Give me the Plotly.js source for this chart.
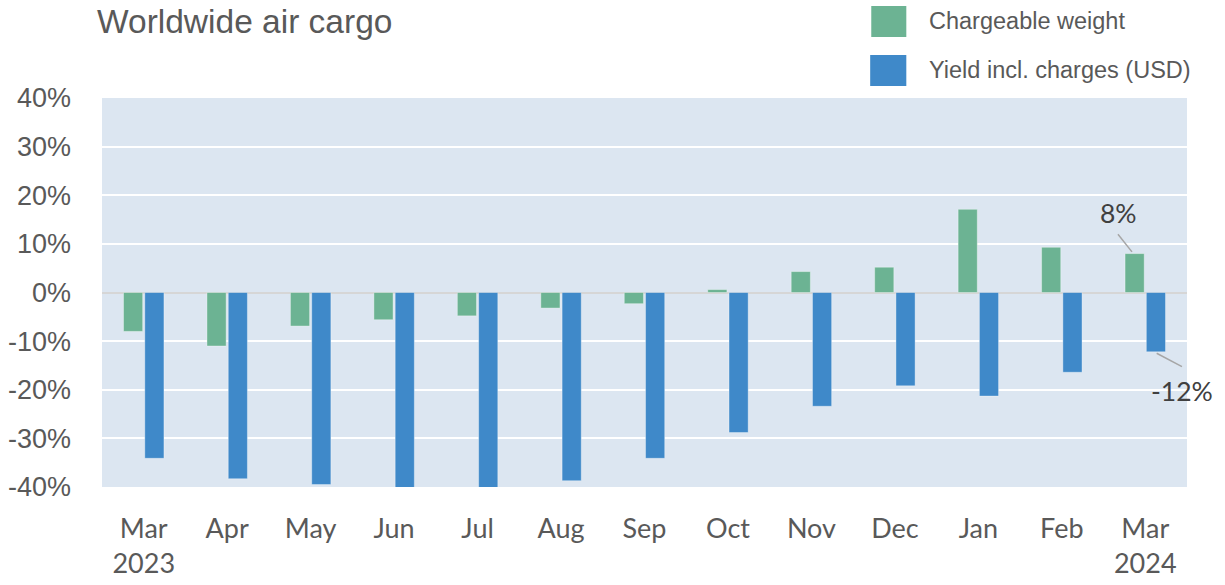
<!DOCTYPE html>
<html>
<head>
<meta charset="utf-8">
<script src="https://cdn.plot.ly/plotly-3.0.1.min.js"></script>
<style>html,body{margin:0;padding:0;background:#fff;}#chart{width:1225px;height:585px;}</style>
</head>
<body>
<div id="chart"></div>
<script>
const categories = ["Mar<br>2023","Apr","May","Jun","Jul","Aug","Sep","Oct","Nov","Dec","Jan","Feb","Mar<br>2024"];
const seriesNames = ["Chargeable weight", "Yield incl. charges (USD)"];
const chargeableWeight = [-8.0, -11.0, -6.9, -5.6, -4.8, -3.2, -2.3, 0.6, 4.3, 5.2, 17.1, 9.3, 8.0];
const yieldInclCharges = [-34.1, -38.3, -39.5, -40.7, -40.4, -38.7, -34.1, -28.8, -23.4, -19.2, -21.3, -16.4, -12.2];
const yTickValues = [-40, -30, -20, -10, 0, 10, 20, 30, 40];
const chartTitle = "Worldwide air cargo";

const green = "#6cb393";
const blue = "#3f89c9";
const textGrey = "#595959";
const last = categories.length - 1;

const traces = [
  {type:"bar", name:seriesNames[0], x:categories, y:chargeableWeight, cliponaxis:false,
   marker:{color:green, line:{color:"rgba(255,255,255,0.35)", width:1}}, showlegend:false, hoverinfo:"skip"},
  {type:"bar", name:seriesNames[1], x:categories, y:yieldInclCharges, cliponaxis:false,
   marker:{color:blue, line:{color:"rgba(255,255,255,0.35)", width:1}}, showlegend:false, hoverinfo:"skip"}
];

const fmt = v => Math.round(v) + "%";

const layout = {
  width:1225, height:585,
  margin:{l:102, r:38, t:98, b:98, pad:0},
  paper_bgcolor:"#ffffff",
  plot_bgcolor:"#dce6f1",
  barmode:"group", bargap:0.49, bargroupgap:0.1,
  title:{text:chartTitle, font:{family:"Liberation Sans, Arial, sans-serif", size:33.5, color:textGrey},
         xref:"container", yref:"container", x:97/1225, xanchor:"left", y:1-21/585, yanchor:"middle"},
  xaxis:{type:"category", range:[-0.5, categories.length-0.5], autorange:false,
         showgrid:false, zeroline:false, showline:false, ticks:"",
         tickfont:{family:"Lato, sans-serif", size:27, color:textGrey}, ticklabelstandoff:23},
  yaxis:{range:[-40,40], autorange:false, tickvals:yTickValues, ticktext:yTickValues.map(v=>v+"%"),
         showgrid:true, gridcolor:"#ffffff", gridwidth:2,
         zeroline:true, zerolinecolor:"#d6d6d6", zerolinewidth:2,
         showline:false, ticks:"",
         tickfont:{family:"Liberation Sans, Arial, sans-serif", size:27, color:textGrey}, ticklabelstandoff:30},
  shapes:[
    {type:"rect", xref:"paper", yref:"paper", x0:0.709, x1:0.7413, y0:1.1568, y1:1.2365, fillcolor:green, line:{width:0}},
    {type:"rect", xref:"paper", yref:"paper", x0:0.708, x1:0.7413, y0:1.0308, y1:1.1105, fillcolor:blue, line:{width:0}},
    {type:"line", xref:"x", yref:"y", xsizemode:"pixel", ysizemode:"pixel",
     xanchor:last, yanchor:chargeableWeight[last], x0:-27.3, x1:-13.3, y0:19.4, y1:1.7,
     line:{color:"#a6a6a6", width:1.5}},
    {type:"line", xref:"x", yref:"y", xsizemode:"pixel", ysizemode:"pixel",
     xanchor:last, yanchor:yieldInclCharges[last], x0:11.4, x1:36.7, y0:-1.4, y1:-14.8,
     line:{color:"#a6a6a6", width:1.5}}
  ],
  annotations:[
    {xref:"paper", yref:"paper", x:0.7606, y:1.198, xanchor:"left", yanchor:"middle", showarrow:false,
     text:seriesNames[0], font:{family:"Liberation Sans, Arial, sans-serif", size:23.5, color:textGrey}},
    {xref:"paper", yref:"paper", x:0.7606, y:1.072, xanchor:"left", yanchor:"middle", showarrow:false,
     text:seriesNames[1], font:{family:"Liberation Sans, Arial, sans-serif", size:23.5, color:textGrey}},
    {x:last, y:chargeableWeight[last], xref:"x", yref:"y", showarrow:false, xanchor:"center", yanchor:"middle",
     xshift:-26.6, yshift:41, text:fmt(chargeableWeight[last]), font:{family:"Lato, sans-serif", size:26.5, color:"#404040"}},
    {x:last, y:yieldInclCharges[last], xref:"x", yref:"y", showarrow:false, xanchor:"center", yanchor:"middle",
     xshift:37, yshift:-39, text:fmt(yieldInclCharges[last]), font:{family:"Lato, sans-serif", size:26.5, color:"#404040"}}
  ]
};

Plotly.newPlot("chart", traces, layout, {staticPlot:true, displayModeBar:false});
</script>
</body>
</html>
